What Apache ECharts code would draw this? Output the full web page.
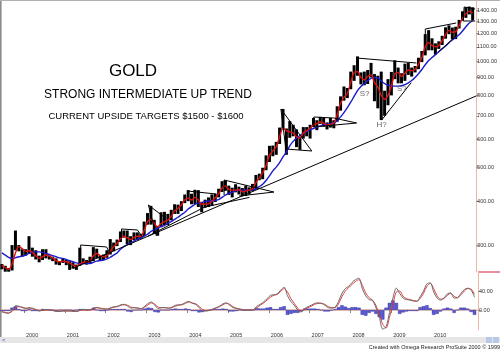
<!DOCTYPE html>
<html><head><meta charset="utf-8">
<script src="https://cdn.jsdelivr.net/npm/echarts@6/dist/echarts.min.js"></script>
<style>html,body{margin:0;padding:0;background:#fff}#c{width:500px;height:350px}</style>
</head><body><div id="c"></div>
<script>
// ---- DATA (monthly, Jun 1999 .. Jan 2011) ----
const firstYear = 1999, firstMonth = 6, monthCount = 140;
const highs = [
 265,262,258,300,330,300,292,
 292,318,295,290,280,292,292,280,278,275,270,275,
 272,270,268,264,295,275,272,278,296,293,280,282,
 290,312,305,311,328,330,330,318,326,326,323,350,
 370,388,354,340,372,373,368,378,392,391,400,418,
 430,420,431,430,398,404,410,418,420,434,456,458,
 443,437,447,440,436,443,438,448,475,479,498,540,
 575,576,590,648,732,644,676,660,640,610,650,650,
 660,690,680,695,690,670,690,680,745,795,848,840,
 935,975,1033,930,935,945,990,920,910,935,825,890,
 933,1007,960,925,985,990,960,970,1024,1070,1195,1227,
 1163,1125,1140,1182,1250,1266,1248,1255,1312,1388,1424,1432,
 1425];
const lows = [
 256,252,252,254,290,288,278,
 280,283,278,273,268,272,275,273,270,264,263,267,
 263,255,257,255,262,265,264,265,270,275,272,272,
 276,282,288,298,306,315,302,300,310,310,313,318,
 343,343,323,319,337,342,342,353,368,368,375,395,
 400,392,392,385,372,383,385,388,398,410,425,428,
 417,410,424,418,413,414,418,427,432,459,462,490,
 517,537,542,582,640,542,606,612,570,560,603,612,
 603,650,637,664,652,640,648,645,673,724,773,786,
 833,880,910,860,855,862,900,770,735,681,700,750,
 800,890,866,866,880,915,905,930,950,995,1040,1075,
 1075,1045,1085,1113,1160,1195,1155,1157,1240,1306,1330,1360,
 1308];
const fastAvg = [
 263,259,256,265,285,297,293,
 288,289,286,280,275,278,281,279,276,271,269,270,
 269,267,263,261,265,268,268,270,280,284,280,278,
 280,288,297,303,313,318,315,311,315,318,318,330,
 350,355,346,338,346,350,353,362,375,382,390,404,
 408,403,410,403,392,392,393,400,409,420,436,442,
 432,430,430,432,425,428,430,434,452,466,482,505,
 540,556,572,610,645,635,630,625,610,605,625,635,
 645,660,665,672,667,658,662,667,705,760,790,810,
 870,930,935,900,885,905,915,870,845,800,780,800,
 850,920,930,905,925,945,940,950,980,1025,1100,1130,
 1110,1100,1110,1145,1190,1225,1210,1215,1265,1325,1365,1390,
 1370];
const slowAvg = [
 285,281,277,275,276,278,279,
 281,284,286,287,287,286,284,282,280,278,276,275,
 273,271,269,267,266,266,266,266,268,270,271,272,
 274,277,281,285,292,297,301,304,308,312,314,318,
 322,328,332,335,339,341,346,350,355,360,366,372,
 380,386,392,395,397,399,400,401,402,404,410,416,
 421,424,428,430,430,430,430,430,434,440,447,458,
 472,488,500,515,535,552,575,592,605,615,625,632,
 638,644,650,655,660,662,665,668,678,695,715,738,
 765,795,825,848,865,880,895,900,897,880,865,855,
 852,850,850,852,858,868,882,900,922,948,978,1005,
 1025,1045,1065,1085,1105,1130,1150,1170,1190,1220,1255,1285,
 1305];
const macdLine = [
 -4,-6,-7,0,9,8,5,
 3,5,3,0,-2,0,1,0,-1,-3,-3,-2,
 -2,-2,-3,-3,0,1,0,1,5,5,3,2,
 2,5,7,8,11,12,8,4,5,4,3,8,
 14,17,10,3,5,5,4,6,10,11,12,16,
 18,14,12,5,-2,-2,-1,2,5,8,13,15,
 10,5,3,2,0,0,0,1,8,12,17,24,
 31,32,34,42,48,30,18,10,0,-4,3,7,
 10,14,15,14,10,5,4,6,18,35,45,50,
 58,64,67,45,30,22,20,5,-15,-40,-35,-5,
 25,46,35,25,22,21,19,18,28,40,55,57,
 38,25,21,25,34,36,25,26,35,43,46,42,
 27];
const signalLine = [
 -3,-5,-6,-3,5,7,6,
 4,4,4,1,-1,-1,0,0,-1,-2,-3,-2,
 -2,-2,-2,-3,-1,0,0,0,3,5,4,3,
 2,4,6,7,10,11,10,6,5,4,3,6,
 11,15,12,6,5,5,4,5,8,10,11,14,
 17,15,13,8,1,-1,-1,1,4,7,11,14,
 12,7,4,2,1,0,0,1,5,10,15,21,
 27,31,33,39,45,38,24,14,4,-2,1,5,
 8,12,14,14,12,7,5,5,13,28,40,47,
 54,60,64,52,36,26,21,10,-8,-30,-38,-15,
 12,38,40,29,24,22,20,19,24,35,50,56,
 45,30,23,24,31,35,29,26,32,40,45,44,
 33];
const histogram = [
 -2,-2,-2,5,8,2,-2,
 -2,2,-2,-2,-2,2,1,0,0,-2,0,0,
 0,0,-2,0,2,2,0,1,4,0,-2,-2,
 0,2,2,2,2,2,-3,-4,0,0,0,3,
 5,4,-4,-5,0,0,0,2,3,2,2,3,
 2,-2,-2,-5,-4,-2,0,2,2,2,3,2,
 -3,-3,-2,0,-1,0,0,0,4,3,3,5,
 6,2,2,6,8,-10,-8,-6,-6,-3,3,3,
 3,3,2,0,-3,-3,-1,2,6,10,7,4,
 6,6,5,-10,-12,-6,-3,-8,-15,-20,5,15,
 20,15,-8,-5,-3,-2,-2,-2,6,8,10,4,
 -10,-8,-3,3,5,3,-6,0,5,5,3,-4,
 -10];
const priceTicks = [300,400,500,600,700,800,900,1000,1100,1200,1300,1400];
const oscTicks = [0,40];
const yearTicks = [2000,2001,2002,2003,2004,2005,2006,2007,2008,2009,2010,2011];
const yearLabels = [2000,2001,2002,2003,2004,2005,2006,2007,2008,2009,2010];
// analyst drawings: [decimal year, price]
const trendLine = [[2001.225,258.2],[2011.127,796.9]];
const patternLines = [
 [[2001.397,266.7],[2001.397,300.2],[2002.034,296.3],[2002.108,284.8]],
 [[2002.402,314.3],[2002.402,333.4],[2002.794,331.2],[2002.917,316.3]],
 [[2003.26,318.4],[2003.064,390.1],[2003.48,358.3]],
 [[2004.02,427.6],[2004.73,419.3]],
 [[2003.05,318],[2004.45,385],[2005.55,410]],
 [[2004.926,416.5],[2004.926,459.6],[2006.152,424.7],[2005.294,413.8]],
 [[2006.446,563],[2006.324,731.8],[2007.083,555.7],[2006.446,563]],
 [[2007.132,650.4],[2007.132,694.4],[2007.623,689.9],[2008.186,667.7],[2007.132,650.4]],
 [[2008.186,1022],[2009.657,989.3]],
 [[2008.80,680],[2009.53,870]],
 [[2009.877,1135],[2009.877,1236],[2010.637,1285.6]],
 [[2010.196,1063],[2010.662,1188.5]],
 [[2010.809,1302.6],[2010.833,1427.8],[2011.103,1409]],
 [[2010.809,1302.6],[2011.103,1302.6]]
];
const noteTexts = ['S?','H?','S?'];
const notePoints = [[2008.382,807],[2008.80,659],[2009.30,835]];

// ---- BUILD ----
const xs = [];
for (let i = 0; i < monthCount; i++) {
  const m0 = firstMonth - 1 + i;
  xs.push(firstYear + Math.floor(m0 / 12) + ((m0 % 12) + 0.5) / 12);
}
const zip = arr => arr.map((v, i) => [xs[i], v]);
const FONT = 'Liberation Sans, Arial, sans-serif';
const AX = '#f0b8a0';
const xMin = 1999.461, xMax = 2011.127;

const chart = echarts.init(document.getElementById('c'), null, {renderer: 'canvas'});
chart.setOption({
  animation: false,
  backgroundColor: '#fff',
  grid: [
    {left: 2, right: 22, top: 1, bottom: 78},
    {left: 2, right: 22, top: 272, bottom: 20}
  ],
  xAxis: [
    {type: 'value', gridIndex: 0, min: xMin, max: xMax, show: false},
    {type: 'value', gridIndex: 1, min: xMin, max: xMax,
     axisLine: {show: true, lineStyle: {color: '#f6cdb8', width: 2}},
     axisTick: {show: true, customValues: yearTicks, length: 3, lineStyle: {color: '#888'}},
     axisLabel: {customValues: yearLabels, formatter: v => String(v), align: 'left', margin: 2,
       padding: [0, 0, 0, 2], fontSize: 5.5, color: '#333', fontFamily: FONT},
     splitLine: {show: false}}
  ],
  yAxis: [
    {type: 'log', gridIndex: 0, position: 'right', min: 251.5, max: 1485, logBase: 10,
     axisLine: {show: true, lineStyle: {color: AX, width: 1}},
     axisTick: {show: true, customValues: priceTicks, length: 3, lineStyle: {color: '#999'}},
     axisLabel: {customValues: priceTicks, formatter: v => Number(v).toFixed(2), margin: 1,
       fontSize: 5.5, color: '#333', fontFamily: FONT},
     splitLine: {show: false}},
    {type: 'value', gridIndex: 1, position: 'right', min: -42, max: 80,
     axisLine: {show: true, lineStyle: {color: AX, width: 1}},
     axisTick: {show: true, customValues: oscTicks, length: 3, lineStyle: {color: '#999'}},
     axisLabel: {customValues: oscTicks, formatter: v => Number(v).toFixed(2), margin: 1,
       fontSize: 5.5, color: '#333', fontFamily: FONT},
     splitLine: {show: false}}
  ],
  series: [
    {type: 'custom', xAxisIndex: 0, yAxisIndex: 0,
     data: xs.map((x, i) => [x, lows[i], highs[i]]),
     renderItem: (params, api) => {
       const a = api.coord([api.value(0), api.value(1)]);
       const b = api.coord([api.value(0), api.value(2)]);
       return {type: 'line', shape: {x1: a[0], y1: a[1], x2: b[0], y2: b[1]},
               style: {stroke: '#000', lineWidth: 3}};
     }, z: 2},
    {type: 'line', xAxisIndex: 0, yAxisIndex: 0, data: zip(slowAvg), showSymbol: false, smooth: 0.3,
     lineStyle: {color: '#1a1ad0', width: 1.4}, z: 4},
    {type: 'line', xAxisIndex: 0, yAxisIndex: 0, data: zip(fastAvg), showSymbol: false, smooth: 0.3,
     lineStyle: {color: '#e01010', width: 1.4}, z: 5},
    {type: 'lines', coordinateSystem: 'cartesian2d', xAxisIndex: 0, yAxisIndex: 0, polyline: true,
     data: [{coords: trendLine}].concat(patternLines.map(c => ({coords: c}))),
     lineStyle: {color: '#000', width: 1, opacity: 1}, z: 6},
    {type: 'custom', xAxisIndex: 0, yAxisIndex: 0, z: 8,
     data: notePoints.map((p, i) => [p[0], p[1], i]),
     renderItem: (params, api) => {
       const p = api.coord([api.value(0), api.value(1)]);
       return {type: 'text', x: p[0], y: p[1],
               style: {text: noteTexts[api.value(2)], font: '8px ' + FONT, fill: '#666',
                       align: 'center', verticalAlign: 'middle'}};
     }},
    {type: 'bar', xAxisIndex: 1, yAxisIndex: 1, data: zip(histogram), barWidth: 3.4,
     itemStyle: {color: '#5a5ad6', borderColor: '#22229a', borderWidth: 0.4}},
    {type: 'line', xAxisIndex: 1, yAxisIndex: 1, data: zip(signalLine), showSymbol: false, smooth: 0.3,
     lineStyle: {color: '#e03030', width: 0.9}},
    {type: 'line', xAxisIndex: 1, yAxisIndex: 1, data: zip(macdLine), showSymbol: false, smooth: 0.3,
     lineStyle: {color: '#6a6a6a', width: 1}}
  ],
  graphic: [
    {type: 'rect', shape: {x: 0, y: 0, width: 1.6, height: 337}, style: {fill: '#8c8c8c'}, silent: true},
    {type: 'line', shape: {x1: 0, y1: 0.5, x2: 500, y2: 0.5}, style: {stroke: '#b0b0b0', lineWidth: 1}, silent: true},
    {type: 'line', shape: {x1: 478, y1: 272, x2: 500, y2: 272}, style: {stroke: '#e06a7a', lineWidth: 1.5}, silent: true},
    {type: 'text', x: 133, y: 71, style: {text: 'GOLD', font: '17px ' + FONT, fill: '#000', align: 'center', verticalAlign: 'middle'}},
    {type: 'text', x: 148, y: 95, style: {text: 'STRONG INTERMEDIATE UP TREND', font: '12px ' + FONT, fill: '#000', align: 'center', verticalAlign: 'middle'}},
    {type: 'text', x: 146, y: 116, style: {text: 'CURRENT UPSIDE TARGETS $1500 - $1600', font: '9.5px ' + FONT, fill: '#000', align: 'center', verticalAlign: 'middle'}},
    {type: 'rect', shape: {x: 0, y: 337, width: 500, height: 6}, style: {fill: '#e6e6e6'}, silent: true},
    {type: 'rect', shape: {x: 486, y: 337, width: 6, height: 6}, style: {fill: '#b8c8e8'}, silent: true},
    {type: 'rect', shape: {x: 493, y: 337, width: 6, height: 6}, style: {fill: '#b8c8e8'}, silent: true},
    {type: 'text', x: 2, y: 340, style: {text: '<', font: '6px ' + FONT, fill: '#3050a0', verticalAlign: 'middle'}},
    {type: 'text', x: 500, y: 347, style: {text: 'Created with Omega Research ProSuite 2000 \u00a9 1999', font: '5.5px ' + FONT, fill: '#222', align: 'right', verticalAlign: 'middle'}}
  ]
});
</script></body></html>
